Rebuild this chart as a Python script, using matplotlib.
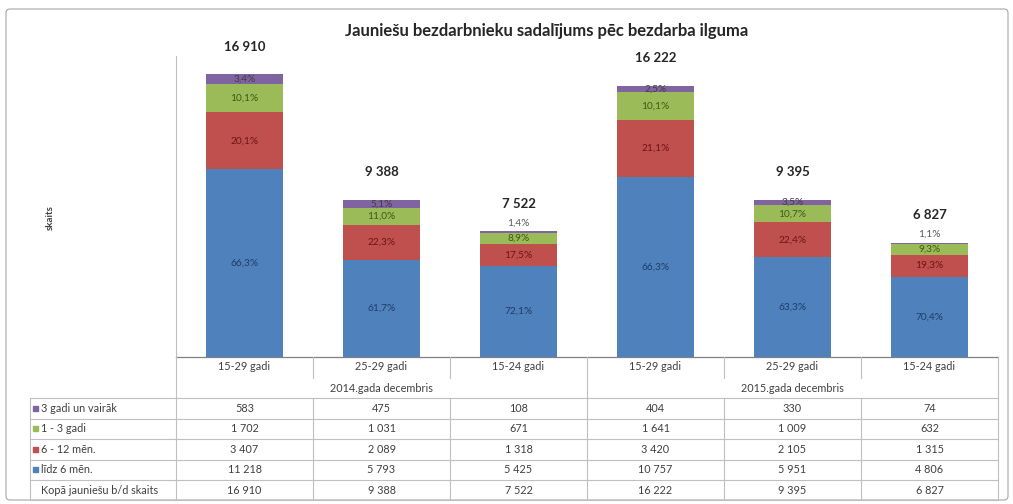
import numpy as np
import matplotlib.pyplot as plt
from matplotlib.patches import FancyBboxPatch

plt.rcParams['font.family'] = ['Lato', 'DejaVu Sans']

title = 'Jauniešu bezdarbnieku sadalījums pēc bezdarba ilguma'
categories = ['15-29 gadi', '25-29 gadi', '15-24 gadi', '15-29 gadi', '25-29 gadi', '15-24 gadi']
groups = ['2014.gada decembris', '2015.gada decembris']
series_names = ['līdz 6 mēn.', '6 - 12 mēn.', '1 - 3 gadi', '3 gadi un vairāk']
lidz6 = [11218, 5793, 5425, 10757, 5951, 4806]
m6_12 = [3407, 2089, 1318, 3420, 2105, 1315]
g1_3 = [1702, 1031, 671, 1641, 1009, 632]
g3plus = [583, 475, 108, 404, 330, 74]
totals = [16910, 9388, 7522, 16222, 9395, 6827]
total_name = 'Kopā jauniešu b/d skaits'

colors = ['#4F81BD', '#C0504D', '#9BBB59', '#8064A2']
text_colors = ['#1F3D66', '#6E1513', '#3D5A14', '#3F3F3F']


def fmt(v):
    return '{:,}'.format(v).replace(',', ' ')


def pct(v, t):
    return ('%.1f' % (v / t * 100)).replace('.', ',') + '%'


W, H = 1013, 504
fig = plt.figure(figsize=(W / 100, H / 100), dpi=100)

# overlay in pixel coordinates for the frame and the data table
ov = fig.add_axes([0, 0, 1, 1])
ov.set_xlim(0, W)
ov.set_ylim(H, 0)
ov.axis('off')
ov.add_patch(FancyBboxPatch((6, 9), 1002, 491, boxstyle='round,pad=0,rounding_size=4',
                            fill=False, ec='#A6A6A6', lw=0.8))

x0, x1 = 176, 998
colw = (x1 - x0) / 6
ax = fig.add_axes([x0 / W, (H - 357) / H, (x1 - x0) / W, 301 / H])
series = [lidz6, m6_12, g1_3, g3plus]
x = np.arange(len(categories))
bottom = np.zeros(len(categories))
for k, s in enumerate(series):
    s = np.array(s)
    ax.bar(x, s, 0.555, bottom=bottom, color=colors[k], zorder=2)
    for i in range(len(x)):
        p = s[i] / totals[i] * 100
        yc = bottom[i] + s[i] / 2
        col = text_colors[k]
        if k == 3 and p < 2:
            yc = bottom[i] + s[i] + 500
            col = '#595959'
        ax.text(x[i], yc, pct(s[i], totals[i]), ha='center', va='center',
                fontsize=7.3, color=col, zorder=3)
    bottom += s

for i in range(len(x)):
    ax.text(x[i], totals[i] + 1650, fmt(totals[i]), ha='center', va='center',
            fontsize=9.5, fontweight='bold', color='#262626')

ax.set_xlim(-0.5, 5.5)
ax.set_ylim(0, 18000)
ax.set_xticks([])
ax.set_yticks([])
for sp in ['top', 'right', 'bottom']:
    ax.spines[sp].set_visible(False)
ax.spines['left'].set_color('#BFBFBF')
ax.patch.set_alpha(0)

ov.text(547, 31, title, ha='center', va='center', fontsize=12, fontweight='bold', color='#262626')
ov.text(50, 218, 'skaits', rotation=90, ha='center', va='center', fontsize=7, fontweight='bold', color='#404040')

# table
lc = '#BFBFBF'
tc = '#404040'
fs = 7.8
ov.plot([x0, x1], [357, 357], color='#808080', lw=0.9)
row_y = [398, 418.5, 439, 459.5, 480, 500]
for y in row_y:
    ov.plot([30, x1], [y, y], color=lc, lw=0.8)
ov.plot([30, 30], [398, 500], color=lc, lw=0.8)
for j in range(7):
    xx = x0 + j * colw
    if j in (0, 3, 6):
        ov.plot([xx, xx], [357, 500], color=lc, lw=0.8)
    else:
        ov.plot([xx, xx], [357, 378], color=lc, lw=0.8)
        ov.plot([xx, xx], [398, 500], color=lc, lw=0.8)

for i, c in enumerate(categories):
    ov.text(x0 + (i + 0.5) * colw, 367, c, ha='center', va='center', fontsize=fs, color=tc)
for g, gname in enumerate(groups):
    ov.text(x0 + (g * 3 + 1.5) * colw, 388, gname, ha='center', va='center', fontsize=fs, color=tc)

rows = [(series_names[3], g3plus, colors[3]), (series_names[2], g1_3, colors[2]),
        (series_names[1], m6_12, colors[1]), (series_names[0], lidz6, colors[0]),
        (total_name, totals, None)]
for r, (name, vals, col) in enumerate(rows):
    yc = (row_y[r] + row_y[r + 1]) / 2
    if col is not None:
        ov.add_patch(plt.Rectangle((33, yc - 2.5), 5, 5, color=col))
    ov.text(41, yc, name, ha='left', va='center', fontsize=fs, color=tc)
    for i, v in enumerate(vals):
        ov.text(x0 + (i + 0.5) * colw, yc, fmt(v), ha='center', va='center', fontsize=fs, color=tc)

fig.savefig('out.png', dpi=100)
